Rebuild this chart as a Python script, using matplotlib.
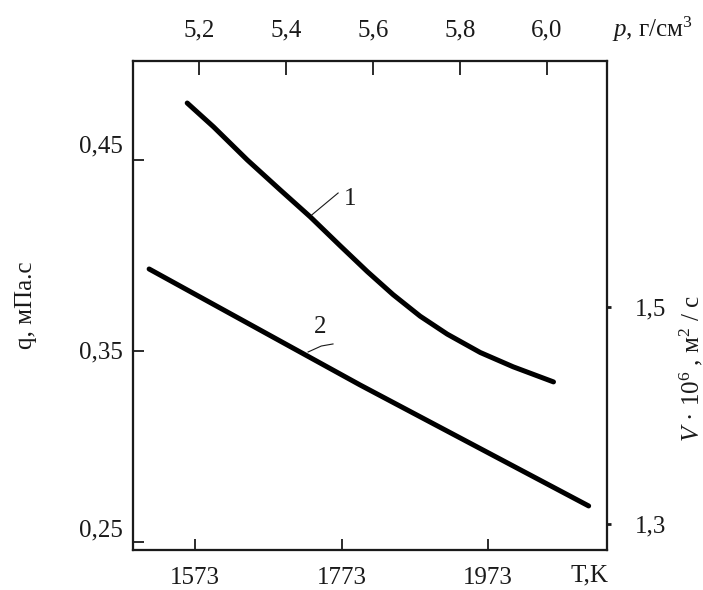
import matplotlib
matplotlib.use("Agg")
import matplotlib.pyplot as plt
import matplotlib.transforms as mtransforms

plt.rcParams['font.family'] = ['Liberation Serif', 'DejaVu Serif']
plt.rcParams['mathtext.fontset'] = 'custom'
plt.rcParams['mathtext.rm'] = 'Liberation Serif'
plt.rcParams['mathtext.it'] = 'Liberation Serif:italic'

# Data
T1 = [1562, 1598, 1644, 1689, 1730, 1771, 1808, 1843, 1880, 1917, 1962, 2007, 2062]
q1 = [0.4798, 0.4673, 0.4500, 0.4343, 0.4202, 0.4050, 0.3915, 0.3795, 0.3682,
      0.3588, 0.3492, 0.3417, 0.3338]
T2 = [1510, 1798, 2110]
nu2 = [1.535, 1.4281, 1.3166]

T_ticks = [1573, 1773, 1973]
q_ticks = [0.25, 0.35, 0.45]
q_labels = ['0,25', '0,35', '0,45']
nu_ticks = [1.3, 1.5]
nu_labels = ['1,3', '1,5']
p_ticks = [5.2, 5.4, 5.6, 5.8, 6.0]
p_labels = ['5,2', '5,4', '5,6', '5,8', '6,0']

FS = 18
col = '#1a1a1a'

fig = plt.figure(figsize=(7.03, 5.90), dpi=100)
ax = fig.add_axes([0.1892, 0.0678, 0.6742, 0.8288])
ax.set_xlim(1488, 2135)
ax.set_ylim(0.2458, 0.5018)
for s in ax.spines.values():
    s.set_linewidth(1.5)
    s.set_color(col)

ax.plot(T1, q1, color='black', lw=3.6, solid_capstyle='round', solid_joinstyle='round')
ax.set_xticks(T_ticks)
ax.set_xticklabels([str(t) for t in T_ticks], fontsize=FS)
ax.set_yticks(q_ticks)
ax.set_yticklabels([])
ax.tick_params(axis='x', direction='in', length=8, width=1.3, pad=12, colors=col)
ax.tick_params(axis='y', direction='in', length=8, width=1.3, pad=8, colors=col)
ax.yaxis.get_major_ticks()[0].tick1line.set_visible(False)
# left tick labels (slightly offset vertically as in the reference)
offsets_px = [12, -1, 13]
blend = mtransforms.blended_transform_factory(ax.transAxes, ax.transData)
for v, lab, off in zip(q_ticks, q_labels, offsets_px):
    tr = blend + mtransforms.ScaledTranslation(0, off / 100, fig.dpi_scale_trans)
    ax.text(-0.022, v, lab, transform=tr, fontsize=FS, color=col, ha='right', va='center')
ax.set_ylabel('q, мПа.с', fontsize=FS, color=col)
ax.yaxis.set_label_coords(-0.2025, 0.5)

ax2 = ax.twinx()
ax2.set_ylim(1.276, 1.7267)
ax2.plot(T2, nu2, color='black', lw=3.6, solid_capstyle='round', solid_joinstyle='round')
ax2.set_yticks(nu_ticks)
ax2.set_yticklabels(nu_labels, fontsize=FS)
ax2.tick_params(axis='y', direction='out', length=3, width=2, pad=17, colors=col)
ax2.set_ylabel(r'$\mathit{V}$ · 10$^{6}$ , м$^{2}$ / с', fontsize=FS, color=col)
ax2.yaxis.set_label_coords(1.148, 0.37)
for s in ax2.spines.values():
    s.set_linewidth(1.5)
    s.set_color(col)

ax3 = ax.twiny()
ax3.set_xlim(5.0483, 6.1379)
ax3.set_xticks(p_ticks)
ax3.set_xticklabels(p_labels, fontsize=FS)
ax3.tick_params(axis='x', direction='in', length=10, width=1.3, pad=14, colors=col)
for s in ax3.spines.values():
    s.set_linewidth(1.5)
    s.set_color(col)

# axis name labels
ax.text(0.964, -0.053, 'T,K', transform=ax.transAxes, fontsize=FS, color=col,
        ha='center', va='center')
ax.text(1.095, 1.065, r'$\mathit{p}$, г/см$^3$', transform=ax.transAxes, fontsize=FS,
        color=col, ha='center', va='center')

# curve labels with leader lines
ax.plot([1732, 1768], [0.4212, 0.4327], color=col, lw=0.8)
ax.text(1785, 0.4294, '1', fontsize=FS, color=col, ha='center', va='center')
ax2.plot([1727, 1745, 1761], [1.4585, 1.4640, 1.4659], color=col, lw=0.8)
ax2.text(1744, 1.4816, '2', fontsize=FS, color=col, ha='center', va='center')

fig.savefig('out.png', dpi=100)
